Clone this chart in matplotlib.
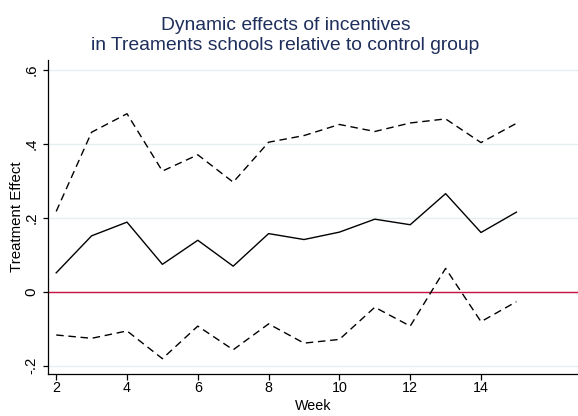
import matplotlib
matplotlib.use("Agg")
import matplotlib.pyplot as plt

weeks = [2, 3, 4, 5, 6, 7, 8, 9, 10, 11, 12, 13, 14, 15]
effect = [0.051, 0.151, 0.188, 0.074, 0.139, 0.069, 0.157, 0.141, 0.161, 0.196, 0.181, 0.265, 0.160, 0.215]
upper = [0.217, 0.431, 0.481, 0.326, 0.370, 0.296, 0.404, 0.422, 0.452, 0.433, 0.456, 0.467, 0.403, 0.455]
lower = [-0.117, -0.126, -0.106, -0.181, -0.093, -0.157, -0.087, -0.139, -0.129, -0.042, -0.093, 0.063, -0.081, -0.027]
xticks = [2, 4, 6, 8, 10, 12, 14]
yticks = [-0.2, 0, 0.2, 0.4, 0.6]
yticklabels = ["-.2", "0", ".2", ".4", ".6"]

plt.rcParams['font.family'] = ['Liberation Sans', 'DejaVu Sans']

W, H = 578, 416
fig = plt.figure(figsize=(W / 100, H / 100), dpi=100)
left, right, bottom, top = 47.5, 578, 374.3, 60
ax = fig.add_axes([left / W, 1 - bottom / H, (right - left) / W, (bottom - top) / H])

px_week = 35.4
x2 = 56.2
ax.set_xlim(2 - (x2 - left) / px_week, 2 + (right - x2) / px_week)
y0 = 291.7
px_unit = 370.0
ax.set_ylim((y0 - bottom) / px_unit, (y0 - top) / px_unit)

for y in yticks:
    ax.axhline(y, color='#e6eef0', lw=1.0, zorder=0)
ax.axhline(0, color='#c8143c', lw=1.0, zorder=1)

ax.plot(weeks, effect, color='black', lw=1.0, zorder=3)
l1, = ax.plot(weeks, upper, color='black', lw=1.0, zorder=3)
l2, = ax.plot(weeks, lower, color='black', lw=1.0, zorder=3)
for l in (l1, l2):
    l.set_dashes((5.4, 3.4))

ax.spines['top'].set_visible(False)
ax.spines['right'].set_visible(False)
ax.spines['left'].set_linewidth(0.9)
ax.spines['bottom'].set_linewidth(0.9)

ax.set_xticks(xticks)
ax.set_xticklabels([str(v) for v in xticks], fontsize=10.3)
ax.set_yticks(yticks)
ax.set_yticklabels(yticklabels, fontsize=10.8, rotation=90, va='center')
ax.tick_params(axis='x', direction='out', length=4.1, width=0.9, pad=1.0)
ax.tick_params(axis='y', direction='out', length=3.8, width=0.9, pad=2.6)

ax.set_xlabel("Week", fontsize=10.3)
ax.set_ylabel("Treatment Effect", fontsize=10.8)
ax.xaxis.set_label_coords(0.5, (bottom - 398.8) / (bottom - top))
ax.yaxis.set_label_coords((24.1 - left) / (right - left), 0.5)

tx = 285.4 / W
tcol = '#1f2f5c'
fig.text(tx, 1 - 29.5 / H, "Dynamic effects of incentives", ha='center', va='baseline',
         fontsize=13.9, color=tcol)
fig.text(tx, 1 - 50 / H, "in Treaments schools relative to control group", ha='center', va='baseline',
         fontsize=13.9, color=tcol)

fig.savefig("out.png", dpi=100)
